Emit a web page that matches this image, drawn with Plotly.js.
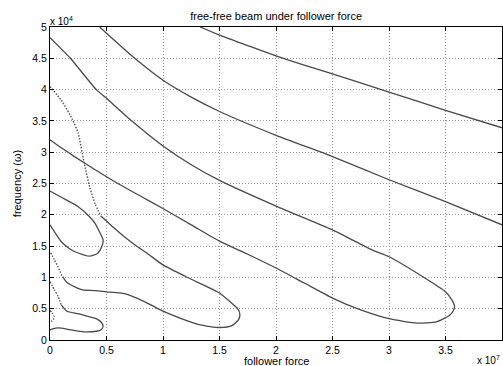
<!DOCTYPE html>
<html>
<head>
<meta charset="utf-8">
<script src="https://cdn.plot.ly/plotly-3.0.1.min.js"></script>
<style>html,body{margin:0;padding:0;background:#fff;}#chart{width:503px;height:366px;}</style>
</head>
<body>
<div id="chart"></div>
<script>
// follower force (x 1e7) vs frequency (x 1e4)
var curveA_x = [1.33, 1.5, 1.77, 2.0, 2.25, 2.5, 3.0, 3.5, 4.0];
var curveA_y = [5.0, 4.87, 4.69, 4.54, 4.39, 4.25, 3.96, 3.67, 3.39];

var curveB_x = [0.44, 0.5, 0.75, 1.0, 1.25, 1.5, 2.0, 2.5, 3.0, 3.5, 4.0];
var curveB_y = [5.0, 4.9, 4.5, 4.15, 3.88, 3.65, 3.27, 2.93, 2.56, 2.21, 1.84];

// large loop closing at ~3.6
var curveC_x = [0, 0.18, 0.41, 0.5, 0.73, 1.0, 1.25, 1.5, 2.0, 2.5, 2.85, 3.0, 3.3, 3.5, 3.56, 3.58,
                3.57, 3.54, 3.42, 3.25, 3.0, 2.75, 2.5, 2.25, 2.0, 1.75, 1.5, 1.25, 1.0, 0.8, 0.6, 0.4, 0.2, 0.1, 0];
var curveC_y = [4.83, 4.5, 4.0, 3.86, 3.49, 3.1, 2.8, 2.55, 2.14, 1.76, 1.44, 1.33, 1.01, 0.77, 0.63, 0.54,
                0.47, 0.4, 0.29, 0.27, 0.34, 0.48, 0.67, 0.91, 1.15, 1.37, 1.58, 1.84, 2.1, 2.3, 2.5, 2.72, 2.95, 3.07, 3.2];

// loop closing at ~1.68: steep (sparse, dotted-looking) start, then solid part
var curveE1_x = [0, 0.1, 0.2, 0.25, 0.3, 0.35, 0.4, 0.45];
var curveE1_y = [4.05, 3.83, 3.52, 3.3, 2.85, 2.45, 2.17, 1.98];
var curveE2_x = [0.45, 0.5, 0.56, 0.65, 0.75, 0.87, 1.0, 1.25, 1.5, 1.6, 1.66, 1.68,
                 1.67, 1.61, 1.5, 1.33, 1.15, 1.0, 0.84, 0.66, 0.5, 0.4, 0.29, 0.22, 0.15, 0.12];
var curveE2_y = [1.98, 1.9, 1.8, 1.66, 1.52, 1.37, 1.2, 0.97, 0.75, 0.6, 0.5, 0.42,
                 0.33, 0.23, 0.2, 0.24, 0.35, 0.46, 0.61, 0.74, 0.77, 0.79, 0.8, 0.85, 0.92, 0.99];
var curveE3_x = [0.12, 0.1, 0.07, 0.04, 0];
var curveE3_y = [0.99, 1.05, 1.17, 1.28, 1.41];

// small loop near 0.47 (upper)
var curveH_x = [0, 0.1, 0.25, 0.35, 0.4, 0.44, 0.47, 0.46, 0.42, 0.35, 0.25, 0.18, 0.1, 0.05, 0];
var curveH_y = [2.38, 2.28, 2.13, 1.97, 1.86, 1.72, 1.6, 1.5, 1.38, 1.34, 1.39, 1.45, 1.57, 1.7, 1.84];

// small loop near 0.47 (bottom): steep start, then solid
var curveF1_x = [0, 0.04, 0.07, 0.1];
var curveF1_y = [0.93, 0.8, 0.7, 0.56];
var curveF2_x = [0.1, 0.15, 0.25, 0.35, 0.42, 0.46, 0.47, 0.45, 0.41, 0.3, 0.19, 0.1, 0.05, 0];
var curveF2_y = [0.56, 0.46, 0.42, 0.37, 0.33, 0.27, 0.22, 0.16, 0.14, 0.13, 0.16, 0.19, 0.19, 0.16];

// tiny arc at the left edge
var curveG_x = [0, 0.02, 0.035, 0.03, 0.015, 0];
var curveG_y = [0.47, 0.43, 0.38, 0.33, 0.3, 0.28];

var xTicks = [0, 0.5, 1, 1.5, 2, 2.5, 3, 3.5, 4];
var yTicks = [0, 0.5, 1, 1.5, 2, 2.5, 3, 3.5, 4, 4.5, 5];

var solid = [[curveA_x, curveA_y], [curveB_x, curveB_y], [curveC_x, curveC_y], [curveE2_x, curveE2_y],
             [curveH_x, curveH_y], [curveF2_x, curveF2_y]];
var sparse = [[curveE1_x, curveE1_y], [curveE3_x, curveE3_y], [curveF1_x, curveF1_y], [curveG_x, curveG_y]];
var traces = solid.map(function (c) {
  return {x: c[0], y: c[1], type: 'scatter', mode: 'lines', showlegend: false, hoverinfo: 'skip',
          line: {color: '#4a4a4a', width: 1.3, shape: 'spline', smoothing: 0.6}};
}).concat(sparse.map(function (c) {
  return {x: c[0], y: c[1], type: 'scatter', mode: 'lines', showlegend: false, hoverinfo: 'skip',
          line: {color: '#555', width: 1.4, shape: 'spline', smoothing: 0.5, dash: '1.5px,1.5px'}};
}));

var fontF = 'Liberation Sans, Arial, sans-serif';
var axisCommon = {
  showline: true, linecolor: '#000', linewidth: 1, mirror: 'ticks',
  ticks: 'inside', ticklen: 4, tickcolor: '#000',
  showgrid: true, gridcolor: '#9a9a9a', griddash: '1px,2px', gridwidth: 1,
  zeroline: false, tickfont: {family: fontF, size: 10.5, color: '#000'}
};
var layout = {
  width: 503, height: 366,
  margin: {l: 50, r: 1, t: 27, b: 26},
  paper_bgcolor: '#fff', plot_bgcolor: '#fff',
  title: {text: 'free-free beam under follower force', font: {family: fontF, size: 11, color: '#000'},
          x: 0.549, xanchor: 'center', y: 0.955, yanchor: 'middle'},
  xaxis: Object.assign({}, axisCommon, {range: [0, 4], tickvals: xTicks, ticktext: xTicks.map(String)}),
  yaxis: Object.assign({}, axisCommon, {range: [0, 5], tickvals: yTicks, ticktext: yTicks.map(String),
          title: {text: 'frequency (ω)', font: {family: fontF, size: 11, color: '#000'}, standoff: 8}}),
  annotations: [
    {text: 'follower force', xref: 'paper', yref: 'paper', x: 0.5, y: 0, xanchor: 'center', yanchor: 'top',
     showarrow: false, font: {family: fontF, size: 11, color: '#000'}, borderpad: 0, yshift: -14},
    {text: 'x 10<sup>4</sup>', xref: 'paper', yref: 'paper', x: 0, y: 1, xanchor: 'left', yanchor: 'bottom',
     showarrow: false, font: {family: fontF, size: 10, color: '#000'}, xshift: -2, yshift: -2},
    {text: 'x 10<sup>7</sup>', xref: 'paper', yref: 'paper', x: 1, y: 0, xanchor: 'right', yanchor: 'top',
     showarrow: false, font: {family: fontF, size: 10, color: '#000'}, yshift: -12}
  ]
};
Plotly.newPlot('chart', traces, layout, {displayModeBar: false, staticPlot: true});
</script>
</body>
</html>
